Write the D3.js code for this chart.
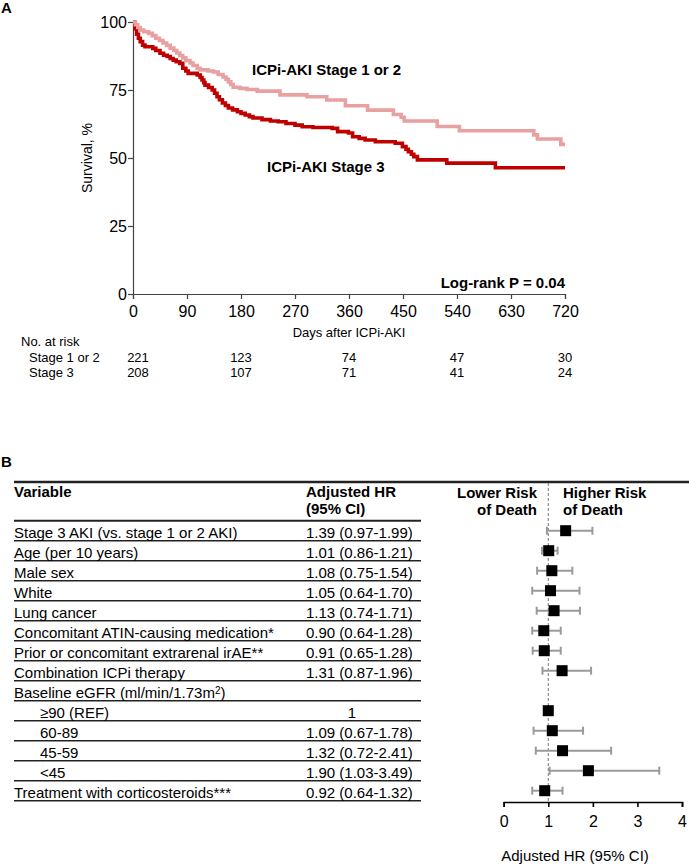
<!DOCTYPE html>
<html><head><meta charset="utf-8">
<script src="https://cdn.jsdelivr.net/npm/d3@7"></script>
<style>
body{margin:0;background:#fff}
svg{display:block}
text{font-family:"Liberation Sans",Arial,Helvetica,sans-serif;fill:#000}
</style>
</head><body>
<svg id="c" width="689" height="864"></svg>
<script>
// ---------- Panel A data ----------
const dayTicks = [0, 90, 180, 270, 360, 450, 540, 630, 720];
const survTicks = [0, 25, 50, 75, 100];
const stage12Days = [0,4,8,12,18,26,32,38,44,50,56,62,68,73,78,83,88,95,100,107,112,125,134,142,150,155,159,163,167,178,190,207,245,290,323,354,391,434,447,452,507,544,668,674,713,720];
const stage12Surv = [100,99,98,97,96.4,95.8,95,94,93.2,92.3,91.4,90.4,89.5,88.6,87.7,86.8,85.8,84.9,84,83,82.4,82,81.6,80.7,79.8,78.9,78,77,76,75.6,75.2,74.6,73.2,72.5,71.3,69.2,67.6,66,65,63.6,61.6,60,58.5,57,55,55];
const stage3Days = [0,3,6,9,12,16,20,33,38,45,51,57,62,67,72,78,83,88,92,107,112,115,118,120,126,132,136,140,144,149,154,159,166,174,180,187,194,200,215,229,242,255,270,282,300,332,341,359,366,377,387,404,437,449,455,459,464,468,474,523,604,720];
const stage3Surv = [100,97.5,95.5,94,92.8,91.5,90.9,90.3,89.5,88.5,87.8,87.3,86.6,86,85.4,84.8,83,82,81.1,80.5,79.6,78.7,77.7,76.8,75.9,75,73.8,72.5,71.4,70.2,69.3,68.4,67.7,67,66.4,65.8,65.2,64.7,64.1,63.6,63.3,62.7,62.1,61.5,61.2,60.9,59.7,59.2,57.8,57.2,56.6,56,55.4,54.2,53.2,52.3,51.4,50.5,49.3,48.1,46.4,46.4];
const riskDays = [0, 180, 360, 540, 720];
const riskGroups = ["Stage 1 or 2", "Stage 3"];
const riskStage12 = [221, 123, 74, 47, 30];
const riskStage3 = [208, 107, 71, 41, 24];

// ---------- Panel B data ----------
const variables = [
  "Stage 3 AKI (vs. stage 1 or 2 AKI)",
  "Age (per 10 years)",
  "Male sex",
  "White",
  "Lung cancer",
  "Concomitant ATIN-causing medication*",
  "Prior or concomitant extrarenal irAE**",
  "Combination ICPi therapy",
  "Baseline eGFR (ml/min/1.73m",
  "\u226590 (REF)",
  "60-89",
  "45-59",
  "<45",
  "Treatment with corticosteroids***"
];
const level = [0,0,0,0,0,0,0,0,0,1,1,1,1,0];
const hrVals = [1.39,1.01,1.08,1.05,1.13,0.90,0.91,1.31,null,1,1.09,1.32,1.90,0.92];
const ciLow  = [0.97,0.86,0.75,0.64,0.74,0.64,0.65,0.87,null,null,0.67,0.72,1.03,0.64];
const ciHigh = [1.99,1.21,1.54,1.70,1.71,1.28,1.28,1.96,null,null,1.78,2.41,3.49,1.32];
const hrTicks = [0, 1, 2, 3, 4];

const svg = d3.select("#c");
const PINK = "#e8a0a0", RED = "#c00000";

// ================= Panel A =================
svg.append("text").attr("x", 1).attr("y", 13).attr("font-size", 15).attr("font-weight", "bold").text("A");

const x = d3.scaleLinear().domain([0, 720]).range([133, 565]);
const y = d3.scaleLinear().domain([0, 100]).range([294, 22]);

const gx = svg.append("g").attr("transform", `translate(0,${y(0)})`)
  .call(d3.axisBottom(x).tickValues(dayTicks).tickSize(5).tickPadding(7));
const gy = svg.append("g").attr("transform", `translate(${x(0)},0)`)
  .call(d3.axisLeft(y).tickValues(survTicks).tickSize(5).tickPadding(1));
[gx, gy].forEach(g => {
  g.select(".domain").attr("stroke", "#444").attr("stroke-width", 1.2);
  g.selectAll(".tick line").attr("stroke", "#444").attr("stroke-width", 1.2);
  g.selectAll(".tick text").attr("font-size", 16).attr("font-family", '"Liberation Sans",Arial,sans-serif').attr("fill", "#111");
});

svg.append("text").attr("transform", `translate(92,${y(50)}) rotate(-90)`)
  .attr("text-anchor", "middle").attr("font-size", 14).text("Survival, %");
svg.append("text").attr("x", x(360)).attr("y", 337).attr("text-anchor", "middle")
  .attr("font-size", 13).text("Days after ICPi-AKI");

const line = d3.line().curve(d3.curveStepAfter).x(d => x(d[0])).y(d => y(d[1]));
const s12 = stage12Days.map((d, i) => [d, stage12Surv[i]]);
const s3 = stage3Days.map((d, i) => [d, stage3Surv[i]]);
svg.append("path").datum(s3).attr("d", line).attr("fill", "none").attr("stroke", RED).attr("stroke-width", 3.6);
svg.append("path").datum(s12).attr("d", line).attr("fill", "none").attr("stroke", PINK).attr("stroke-width", 3.6);

svg.append("text").attr("x", 252).attr("y", 75).attr("font-size", 15).attr("font-weight", "bold").text("ICPi-AKI Stage 1 or 2");
svg.append("text").attr("x", 267).attr("y", 172).attr("font-size", 15).attr("font-weight", "bold").text("ICPi-AKI Stage 3");
svg.append("text").attr("x", 565).attr("y", 288).attr("text-anchor", "end").attr("font-size", 15).attr("font-weight", "bold").text("Log-rank P = 0.04");

// number at risk
svg.append("text").attr("x", 21).attr("y", 346).attr("font-size", 13).text("No. at risk");
[riskStage12, riskStage3].forEach((arr, gi) => {
  const yy = 362 + gi * 15;
  svg.append("text").attr("x", 29).attr("y", yy).attr("font-size", 13).text(riskGroups[gi]);
  svg.append("g").selectAll("text").data(arr).join("text")
    .attr("x", (d, i) => x(riskDays[i]) + (i === 0 ? 5 : 0)).attr("y", yy)
    .attr("text-anchor", "middle").attr("font-size", 13).text(d => d);
});

// ================= Panel B =================
svg.append("text").attr("x", 1).attr("y", 467).attr("font-size", 15).attr("font-weight", "bold").text("B");

const rowTop = 520.7, rowH = 20;
const rowY = d3.scaleLinear().domain([0, 1]).range([rowTop, rowTop + rowH]);
const tableL = 14, tableR = 421, hrColX = 306;

// top line
svg.append("line").attr("x1", tableL).attr("x2", 689).attr("y1", 482).attr("y2", 482)
  .attr("stroke", "#222").attr("stroke-width", 2.4);
// header
svg.append("text").attr("x", tableL).attr("y", 497).attr("font-size", 15).attr("font-weight", "bold").text("Variable");
svg.append("text").attr("x", hrColX).attr("y", 497).attr("font-size", 15).attr("font-weight", "bold").text("Adjusted HR");
svg.append("text").attr("x", hrColX).attr("y", 514).attr("font-size", 15).attr("font-weight", "bold").text("(95% CI)");
svg.append("line").attr("x1", tableL).attr("x2", tableR).attr("y1", rowTop).attr("y2", rowTop)
  .attr("stroke", "#222").attr("stroke-width", 2);

const rows = svg.append("g").selectAll("g").data(variables).join("g");
rows.append("line").attr("x1", tableL).attr("x2", tableR)
  .attr("y1", (d, i) => rowY(i + 1)).attr("y2", (d, i) => rowY(i + 1))
  .attr("stroke", "#222").attr("stroke-width", 1.6);
rows.each(function (d, i) {
  const t = d3.select(this).append("text")
    .attr("x", tableL + level[i] * 26).attr("y", rowY(i + 1) - 3).attr("font-size", 15);
  if (d.endsWith("1.73m")) {
    t.append("tspan").text(d);
    t.append("tspan").attr("font-size", 10).attr("dy", -4).text("2");
    t.append("tspan").attr("dy", 4).text(")");
  } else t.text(d);
  if (hrVals[i] != null) {
    const isRef = ciLow[i] == null;
    d3.select(this).append("text")
      .attr("x", isRef ? 352 : hrColX).attr("y", rowY(i + 1) - 3)
      .attr("text-anchor", isRef ? "middle" : "start").attr("font-size", 15)
      .text(isRef ? "1" : `${hrVals[i].toFixed(2)} (${ciLow[i].toFixed(2)}-${ciHigh[i].toFixed(2)})`);
  }
});

// forest plot
const fx = d3.scaleLinear().domain([0, 4]).range([503.7, 682]);
const axisY = 802;
svg.append("line").attr("x1", fx(1)).attr("x2", fx(1)).attr("y1", 483).attr("y2", axisY)
  .attr("stroke", "#777").attr("stroke-width", 1).attr("stroke-dasharray", "3,2");

svg.append("text").attr("x", 537).attr("y", 498).attr("text-anchor", "end").attr("font-size", 15).attr("font-weight", "bold").text("Lower Risk");
svg.append("text").attr("x", 537).attr("y", 515).attr("text-anchor", "end").attr("font-size", 15).attr("font-weight", "bold").text("of Death");
svg.append("text").attr("x", 563).attr("y", 498).attr("font-size", 15).attr("font-weight", "bold").text("Higher Risk");
svg.append("text").attr("x", 563).attr("y", 515).attr("font-size", 15).attr("font-weight", "bold").text("of Death");

const fdata = variables.map((v, i) => ({ i, hr: hrVals[i], lo: ciLow[i], hi: ciHigh[i] }))
  .filter(d => d.hr != null);
const cy = d => rowY(d.i + 0.5);
const ci = fdata.filter(d => d.lo != null);
const cig = svg.append("g").attr("stroke", "#9a9a9a").attr("stroke-width", 2);
cig.selectAll("line.h").data(ci).join("line").attr("class", "h")
  .attr("x1", d => fx(d.lo)).attr("x2", d => fx(d.hi)).attr("y1", cy).attr("y2", cy);
cig.selectAll("line.l").data(ci).join("line").attr("class", "l")
  .attr("x1", d => fx(d.lo)).attr("x2", d => fx(d.lo)).attr("y1", d => cy(d) - 4).attr("y2", d => cy(d) + 4);
cig.selectAll("line.r").data(ci).join("line").attr("class", "r")
  .attr("x1", d => fx(d.hi)).attr("x2", d => fx(d.hi)).attr("y1", d => cy(d) - 4).attr("y2", d => cy(d) + 4);
const sq = 11;
svg.append("g").selectAll("rect").data(fdata).join("rect")
  .attr("x", d => fx(d.hr) - sq / 2).attr("y", d => cy(d) - sq / 2)
  .attr("width", sq).attr("height", sq).attr("fill", "#000");

const fa = svg.append("g").attr("transform", `translate(0,${axisY})`)
  .call(d3.axisBottom(fx).tickValues(hrTicks).tickFormat(d3.format("d")).tickSize(5).tickPadding(9));
fa.select(".domain").attr("stroke", "#000").attr("stroke-width", 1.6);
fa.selectAll(".tick line").attr("stroke", "#000").attr("stroke-width", 1.6);
fa.selectAll(".tick text").attr("font-size", 16).attr("font-family", '"Liberation Sans",Arial,sans-serif').attr("fill", "#000");
svg.append("text").attr("x", fx(1.6)).attr("y", 861).attr("text-anchor", "middle").attr("font-size", 15).text("Adjusted HR (95% CI)");
</script>
</body></html>
